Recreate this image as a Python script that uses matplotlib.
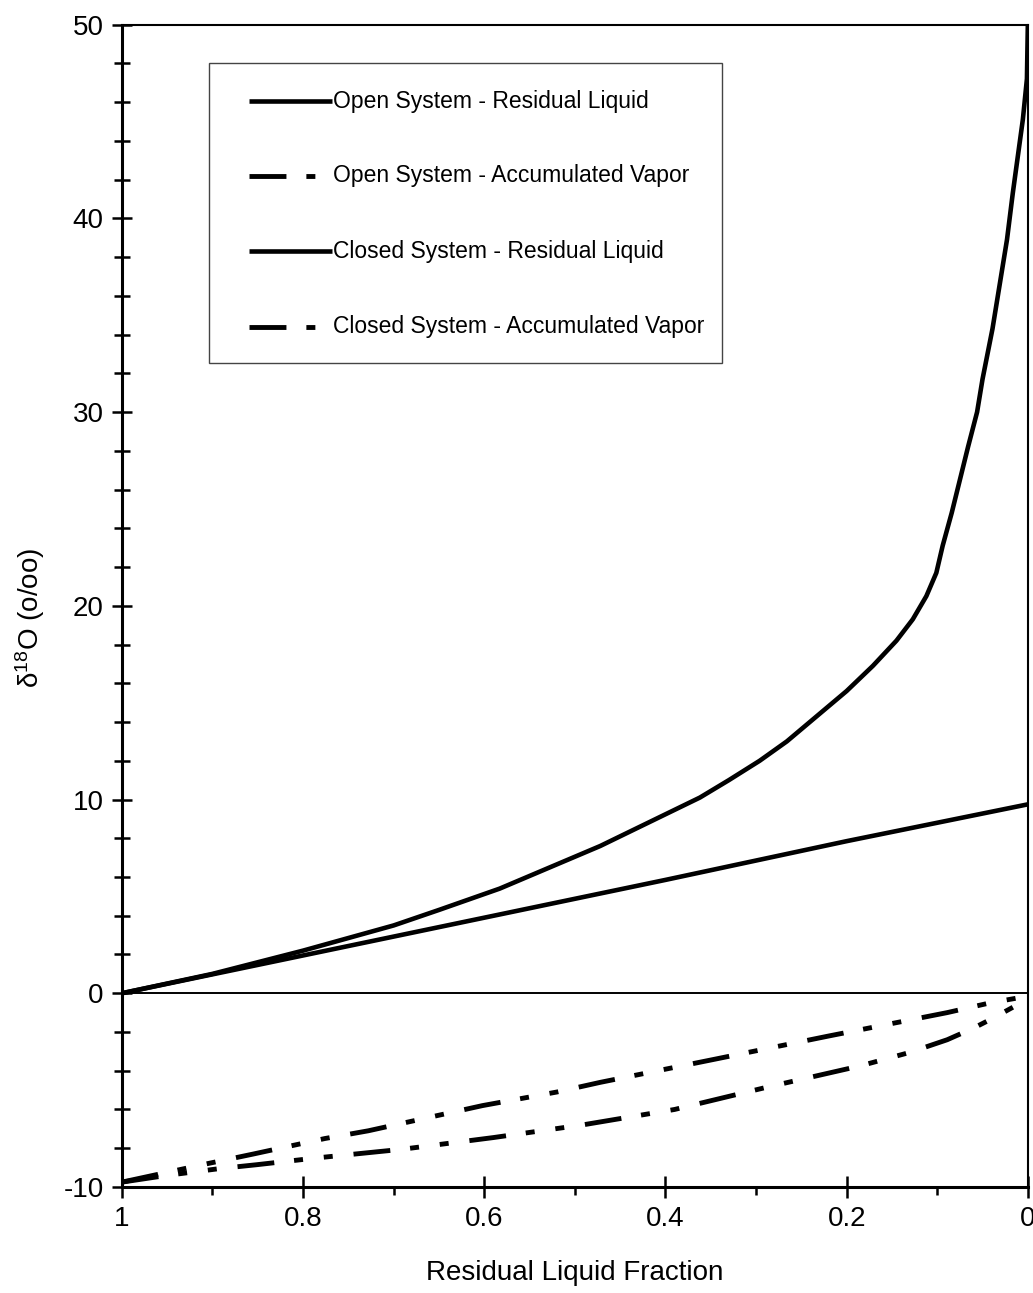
import matplotlib
matplotlib.use("Agg")
import matplotlib.pyplot as plt
from matplotlib.ticker import MultipleLocator, FixedLocator
from matplotlib.patches import Rectangle

plt.rcParams['font.family'] = ['Liberation Sans', 'DejaVu Sans']
plt.rcParams['mathtext.fontset'] = 'custom'
plt.rcParams['mathtext.rm'] = 'Liberation Sans'
plt.rcParams['mathtext.it'] = 'Liberation Sans'
plt.rcParams['axes.unicode_minus'] = False

# values (residual liquid fraction -> delta 18O, o/oo)
open_liquid_f = [1.0, 0.9, 0.8, 0.7, 0.65, 0.583, 0.472, 0.362, 0.33, 0.296, 0.266, 0.233,
                 0.200, 0.171, 0.145, 0.127, 0.112, 0.101, 0.094, 0.084, 0.075, 0.066,
                 0.056, 0.050, 0.039, 0.023, 0.0166, 0.0055, 0.001, 0.0]
open_liquid_d = [0.0, 1.0, 2.2, 3.5, 4.3, 5.4, 7.6, 10.1, 11.0, 12.0, 13.0, 14.3,
                 15.6, 16.9, 18.2, 19.3, 20.5, 21.7, 23.1, 24.8, 26.5, 28.2,
                 30.0, 31.7, 34.3, 38.9, 41.3, 45.1, 47.2, 50.0]

open_vapor_f = [1.0, 0.95, 0.892, 0.851, 0.785, 0.690, 0.590, 0.492, 0.390, 0.288,
                0.185, 0.13, 0.089, 0.06, 0.039, 0.0]
open_vapor_d = [-9.75, -9.4, -9.05, -8.85, -8.5, -8.05, -7.45, -6.8, -6.0, -4.85,
                -3.75, -3.05, -2.4, -1.8, -1.3, -0.3]

closed_liquid_f = [1.0, 0.8, 0.6, 0.4, 0.2, 0.0]
closed_liquid_d = [0.0, 1.95, 3.9, 5.85, 7.85, 9.75]

closed_vapor_f = [1.0, 0.906, 0.855, 0.776, 0.728, 0.602, 0.520, 0.472, 0.345, 0.219,
                  0.089, 0.042, 0.0]
closed_vapor_d = [-9.75, -8.8, -8.3, -7.5, -7.1, -5.8, -5.1, -4.6, -3.4, -2.2,
                  -1.0, -0.5, -0.15]

labels = ["Open System - Residual Liquid", "Open System - Accumulated Vapor",
          "Closed System - Residual Liquid", "Closed System - Accumulated Vapor"]

x_ticks = [1, 0.8, 0.6, 0.4, 0.2, 0]
x_ticklabels = ["1", "0.8", "0.6", "0.4", "0.2", "0"]

fig = plt.figure(figsize=(10.33, 12.93), dpi=100)
ax = fig.add_axes([0.118, 0.082, 0.877, 0.899])

dash = (0, (7.6, 4.1, 1.85, 4.3, 1.85, 4.3))
styles = [dict(ls='-', lw=3.3), dict(ls=dash, lw=3.5),
          dict(ls='-', lw=3.3), dict(ls=dash, lw=3.5)]

ax.axhline(0, color='black', lw=1.4, zorder=1)
series = [(open_liquid_f, open_liquid_d), (open_vapor_f, open_vapor_d),
          (closed_liquid_f, closed_liquid_d), (closed_vapor_f, closed_vapor_d)]
for (f, d), st in zip(series, styles):
    ax.plot(f, d, color='black', solid_capstyle='butt', solid_joinstyle='round',
            zorder=3, **st)

ax.set_xlim(1, 0)
ax.set_ylim(-10, 50)

ax.xaxis.set_major_locator(FixedLocator(x_ticks))
ax.set_xticklabels(x_ticklabels)
ax.xaxis.set_minor_locator(MultipleLocator(0.1))
ax.yaxis.set_major_locator(MultipleLocator(10))
ax.yaxis.set_minor_locator(MultipleLocator(2))

ax.tick_params(axis='x', which='major', direction='inout', length=16, width=1.8,
               labelsize=20, pad=6)
ax.tick_params(axis='x', which='minor', direction='out', length=6, width=1.8)
ax.tick_params(axis='y', which='major', direction='inout', length=14.4, width=1.8,
               labelsize=20, pad=6)
ax.tick_params(axis='y', which='minor', direction='inout', length=11.5, width=1.8)

ax.spines['left'].set_linewidth(2.2)
ax.spines['bottom'].set_linewidth(2.2)
ax.spines['top'].set_linewidth(1.5)
ax.spines['right'].set_linewidth(1.5)

ax.set_xlabel("Residual Liquid Fraction", fontsize=20)
ax.xaxis.set_label_coords(0.5, -0.063)
ax.set_ylabel("δ$^{18}$O (o/oo)", fontsize=20)
ax.yaxis.set_label_coords(-0.083, 0.49)

# legend box drawn in axes fractions
ax.add_patch(Rectangle((0.096, 0.709), 0.566, 0.258, transform=ax.transAxes,
                       fill=False, edgecolor='#444444', lw=1.0, zorder=4))
rows = [0.934, 0.870, 0.805, 0.740]
for lab, st, yy in zip(labels, styles, rows):
    ax.plot([0.140, 0.232], [yy, yy], color='black', transform=ax.transAxes,
            solid_capstyle='butt', zorder=5, **st)
    ax.text(0.233, yy, lab, transform=ax.transAxes, fontsize=16.5,
            va='center', ha='left', zorder=5)

fig.savefig("out.png", dpi=100)
